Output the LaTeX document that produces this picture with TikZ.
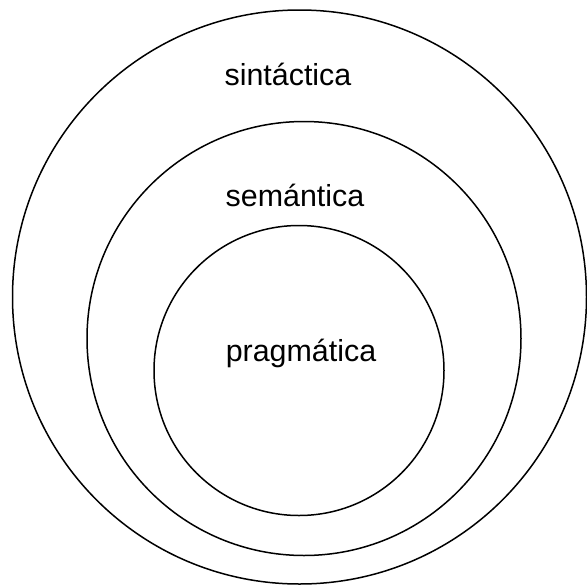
\documentclass[tikz,border=0pt]{standalone}
\usepackage{fontspec}
\setmainfont{Liberation Sans}
\usetikzlibrary{positioning}

\begin{document}
\begin{tikzpicture}[
  x=1pt, y=-1pt,
  ring/.style={draw, circle, line width=1.5pt, inner sep=0pt},
  lbl/.style={anchor=base, inner sep=0pt, font=\fontsize{30.4}{36}\selectfont},
]
  %% frame of the picture
  \useasboundingbox (0,0) rectangle (587,587);

  %% ── Rings ──
  \node[ring, minimum size=574pt] (sintring) at (299.5, 297) {};
  \node[ring, minimum size=434pt] (semring)  at (304, 338.5) {};
  \node[ring, minimum size=290pt] (pragring) at (299, 370.5) {};

  %% ── Labels ──
  \node[lbl] (sint) at (288, 85)  {sintáctica};
  \node[lbl] (sem)  at (295, 206) {semántica};
  \node[lbl] (prag) at (301, 361) {pragmática};
\end{tikzpicture}
\end{document}
